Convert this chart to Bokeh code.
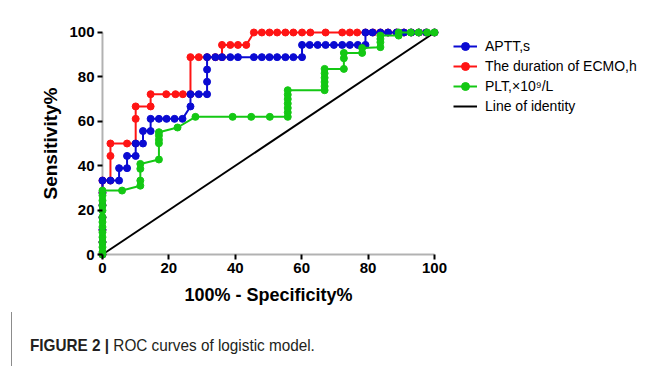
from bokeh.plotting import figure
from bokeh.layouts import column
from bokeh.models import Range1d, FixedTicker, Legend, LegendItem, BoxAnnotation, Div
from bokeh.embed import file_html
from bokeh.resources import INLINE

# ---------------- data ----------------
tick_values = [0, 20, 40, 60, 80, 100]

ecmo_x = [0, 0, 0, 0, 0, 0, 0, 2.4, 2.4, 2.4, 7.4, 10, 10, 10, 14.5, 14.5,
          19.2, 22, 24.2, 26.5, 26.5, 29, 31.5, 34, 36, 36, 38.5, 40.8, 43.3,
          45.6, 48, 50.3, 52.6, 55.1, 57.5, 60.1, 62.6, 67.2, 72.2, 74.5, 76.7,
          79.2, 81.5, 83.7, 86, 88.6, 90.8, 93, 95.3, 97.5, 100]
ecmo_y = [0, 5.6, 11.1, 16.7, 22.2, 27.8, 33.3, 33.3, 44.4, 50, 50, 50, 61.1, 66.7, 66.7, 72.2,
          72.2, 72.2, 72.2, 72.2, 88.9, 88.9, 88.9, 88.9, 88.9, 94.4, 94.4, 94.4, 94.4,
          100, 100, 100, 100, 100, 100, 100, 100, 100, 100, 100, 100,
          100, 100, 100, 100, 100, 100, 100, 100, 100, 100]

aptt_x = [0, 0, 0, 0, 0, 0, 0, 2.4, 5, 5, 7.4, 7.4, 10, 10, 12.2, 12.2, 14.5,
          14.5, 17, 19.3, 21.7, 24.1, 26.5, 26.5, 29, 31.5, 31.5, 31.5, 31.5,
          34, 36, 38.5, 40.8, 45.6, 48, 50.3, 52.6, 55.1, 57.5, 60.1,
          60.1, 62.4, 64.8, 67.2, 69.7, 72.2, 74.5, 76.9, 79.2,
          79.2, 81.3, 83.7, 86, 88.6, 90.8, 93, 95.3, 97.5, 100]
aptt_y = [0, 5.6, 11.1, 16.7, 22.2, 27.8, 33.3, 33.3, 33.3, 38.9, 38.9, 44.4, 44.4, 50, 50, 55.6, 55.6,
          61.1, 61.1, 61.1, 61.1, 61.1, 66.7, 72.2, 72.2, 72.2, 77.8, 83.3, 88.9,
          88.9, 88.9, 88.9, 88.9, 88.9, 88.9, 88.9, 88.9, 88.9, 88.9, 88.9,
          94.4, 94.4, 94.4, 94.4, 94.4, 94.4, 94.4, 94.4, 94.4,
          100, 100, 100, 100, 100, 100, 100, 100, 100, 100]

plt_x = [0, 0, 0, 0, 0, 0, 0, 0, 0, 0, 0, 0, 0, 0, 5.9, 11.4, 11.4, 11.4, 11.4,
         17, 17, 17, 17, 17, 22.6, 28, 39.2, 44.8, 50.4, 55.8,
         55.8, 55.8, 55.8, 55.8, 55.8, 55.8, 66.9, 66.9, 66.9, 66.9, 66.9, 66.9,
         72.7, 72.7, 72.7, 78.2, 78.2, 83.7, 83.7, 83.7, 83.7, 89.2, 89.2,
         92.8, 95.2, 97.8, 100]
plt_y = [0, 1.1, 3.3, 5.5, 7.8, 10, 12.4, 14.6, 16.8, 19.8, 22, 24.3, 26.6, 28.8, 28.8, 31, 33.3, 38.6, 40.8,
         42.8, 50.1, 51.7, 53.6, 55.1, 57.2, 62, 62, 62, 62, 62,
         64, 66, 68, 70, 72, 74, 74, 75.8, 77.7, 79.6, 81.6, 83.6,
         83.6, 88.4, 90.8, 90.8, 93, 93.4, 95.6, 97.1, 98.6, 98.6, 100,
         100, 100, 100, 100]

identity_x = [0, 100]
identity_y = [0, 100]

series_labels = ["APTT,s", "The duration of ECMO,h", "PLT,\u00d710\u2079/L", "Line of identity"]
caption_bold = "FIGURE 2 |"
caption_text = "ROC curves of logistic model."

BLUE = "#0a0ad2"
RED = "#ff1414"
GREEN = "#14c814"
FONT = "Liberation Sans"

p = figure(frame_width=342, frame_height=232,
           min_border_left=97, min_border_right=220, min_border_top=27, min_border_bottom=53,
           x_range=Range1d(-1.5, 101.5), y_range=Range1d(-2.25, 102.25),
           output_backend="svg", toolbar_location=None,
           background_fill_color="white", border_fill_color="white")
p.outline_line_color = None
p.grid.visible = False

for ax in (p.xaxis[0], p.yaxis[0]):
    ax.ticker = FixedTicker(ticks=tick_values)
    ax.axis_line_color = None
    ax.major_tick_line_width = 2
    ax.major_tick_line_color = "black"
    ax.major_tick_out = 0
    ax.minor_tick_line_color = None
    ax.major_label_text_font = FONT
    ax.major_label_text_font_style = "bold"
    ax.major_label_text_font_size = "15px"
    ax.major_label_text_color = "black"
    ax.axis_label_text_font = FONT
    ax.axis_label_text_font_style = "bold"
    ax.axis_label_text_color = "black"

p.xaxis.major_tick_in = 5
p.yaxis.major_tick_in = 5
p.xaxis.axis_label = "100% - Specificity%"
p.yaxis.axis_label = "Sensitivity%"
p.xaxis.axis_label_text_font_size = "18px"
p.yaxis.axis_label_text_font_size = "19px"
p.xaxis.major_label_standoff = 3
p.yaxis.major_label_standoff = 3
p.xaxis.axis_label_standoff = 9
p.yaxis.axis_label_standoff = 5

# axis lines drawn at the data origin, spanning the tick range
lo, hi = tick_values[0], tick_values[-1]
p.add_layout(BoxAnnotation(left=lo, right=hi, bottom=lo, top=lo, fill_alpha=0,
                           line_color="black", line_width=2, level="underlay"))
p.add_layout(BoxAnnotation(left=lo, right=lo, bottom=lo, top=hi, fill_alpha=0,
                           line_color="black", line_width=2, level="underlay"))

r_id = p.line(identity_x, identity_y, line_color="black", line_width=2)
r_el = p.line(ecmo_x, ecmo_y, line_color=RED, line_width=2)
r_es = p.scatter(ecmo_x, ecmo_y, size=7, fill_color=RED, line_color=RED)
r_al = p.line(aptt_x, aptt_y, line_color=BLUE, line_width=2)
r_as = p.scatter(aptt_x, aptt_y, size=7, fill_color=BLUE, line_color=BLUE)
r_pl = p.line(plt_x, plt_y, line_color=GREEN, line_width=2)
r_ps = p.scatter(plt_x, plt_y, size=7, fill_color=GREEN, line_color=GREEN)

legend = Legend(items=[
    LegendItem(label=series_labels[0], renderers=[r_al, r_as]),
    LegendItem(label=series_labels[1], renderers=[r_el, r_es]),
    LegendItem(label=series_labels[2], renderers=[r_pl, r_ps]),
    LegendItem(label=series_labels[3], renderers=[r_id]),
], location=(14, 143))
legend.margin = 0
legend.padding = 6
legend.spacing = 0
legend.glyph_width = 24
legend.glyph_height = 20
legend.label_height = 20
legend.label_standoff = 8
legend.label_text_font = FONT
legend.label_text_font_size = "14px"
legend.label_text_color = "black"
legend.border_line_color = None
legend.background_fill_alpha = 0
p.add_layout(legend, "right")

# caption strip
caption_html = (
    '<div style="margin-left:11px;border-left:1px solid #8c8c8c;height:54px;'
    'padding-left:18px;padding-top:24px;box-sizing:border-box;">'
    '<span style="display:inline-block;transform:scaleX(0.9);transform-origin:left;'
    'white-space:nowrap;font-family:\'Liberation Sans\',Arial,sans-serif;font-size:17px;'
    'line-height:20px;color:#231f20;">'
    '<b>' + caption_bold + '</b> ' + caption_text + '</span></div>'
)
cap = Div(text=caption_html, width=659, height=54, margin=0)

layout = column(p, cap, spacing=0)
open("out.html", "w").write(file_html(layout, INLINE))
